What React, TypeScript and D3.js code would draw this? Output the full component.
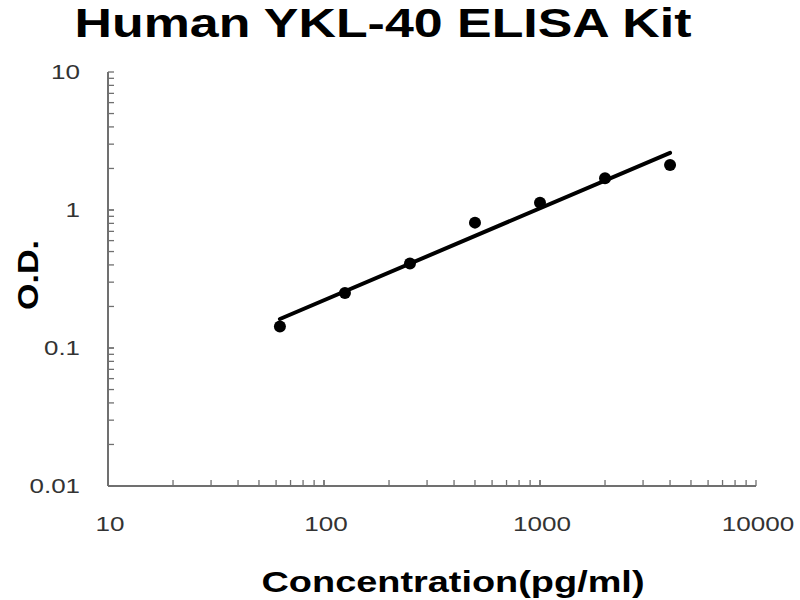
import React from 'react';
import * as d3 from 'd3';

// standard curve readings
const concentrations = [62.5, 125, 250, 500, 1000, 2000, 4000];
const odValues = [0.143, 0.25, 0.41, 0.81, 1.13, 1.7, 2.12];
const xTickLabels = ['10', '100', '1000', '10000'];
const yTickLabels = ['0.01', '0.1', '1', '10'];

const W = 800;
const H = 600;

const x = d3.scaleLog().domain([10, 10000]).range([108, 756]);
const y = d3.scaleLog().domain([0.01, 10]).range([486, 72]);

// least squares in log-log space (power trendline)
const lx = concentrations.map(Math.log10);
const ly = odValues.map(Math.log10);
const mx = d3.mean(lx)!;
const my = d3.mean(ly)!;
const slope = d3.sum(lx, (v, i) => (v - mx) * (ly[i] - my)) / d3.sum(lx, v => (v - mx) ** 2);
const fit = (c: number) => Math.pow(10, my + slope * (Math.log10(c) - mx));

const minorTicks = (lo: number, hi: number) => {
    const out: number[] = [];
    for (let p = lo; p < hi; p++) {
        for (let k = 1; k <= 10; k++) out.push(k * Math.pow(10, p));
    }
    return out;
};

const xTicks = minorTicks(1, 4);
const yTicks = minorTicks(-2, 1);

// labels in the reference are stretched sideways
const labelWidth = (s: string) => s.split('').reduce((w, ch) => w + (ch === '.' ? 7 : 14.5), 0);

const App: React.FC = () => {
    const line = d3.line<number>()
        .x(c => x(c))
        .y(c => y(fit(c)));
    const fitPts = [concentrations[0], concentrations[concentrations.length - 1]];
    const axisColor = '#707070';

    return (
        <svg width={W} height={H} style={{ display: 'block', position: 'absolute', left: 0, top: 0, background: '#fff' }}
            fontFamily="'Liberation Sans', Arial, sans-serif">
            <text x={383} y={37} textAnchor="middle" fontSize={40} fontWeight="bold" fill="#000"
                textLength={617} lengthAdjust="spacingAndGlyphs">Human YKL-40 ELISA Kit</text>

            {/* axes */}
            <line x1={x(10)} x2={x(10)} y1={y(10)} y2={y(0.01)} stroke={axisColor} strokeWidth={2} />
            <line x1={x(10)} x2={x(10000)} y1={y(0.01)} y2={y(0.01)} stroke={axisColor} strokeWidth={2} />
            {xTicks.map((t, i) => (
                <line key={'xt' + i} x1={x(t)} x2={x(t)} y1={y(0.01)} y2={y(0.01) - 6} stroke={axisColor} strokeWidth={1.3} />
            ))}
            {yTicks.map((t, i) => (
                <line key={'yt' + i} x1={x(10)} x2={x(10) + 6} y1={y(t)} y2={y(t)} stroke={axisColor} strokeWidth={1.3} />
            ))}

            {xTickLabels.map(s => (
                <text key={'xl' + s} x={x(+s) + 2} y={531} textAnchor="middle" fontSize={20} fill="#333"
                    textLength={labelWidth(s)} lengthAdjust="spacingAndGlyphs">{s}</text>
            ))}
            {yTickLabels.map(s => (
                <text key={'yl' + s} x={80 - labelWidth(s) / 2} y={y(+s) + 7} textAnchor="middle" fontSize={20} fill="#333"
                    textLength={labelWidth(s)} lengthAdjust="spacingAndGlyphs">{s}</text>
            ))}

            <text x={453} y={592} textAnchor="middle" fontSize={30} fontWeight="bold" fill="#000"
                textLength={383} lengthAdjust="spacingAndGlyphs">Concentration(pg/ml)</text>
            <text transform="translate(38,275) rotate(-90)" textAnchor="middle" fontSize={30} fontWeight="bold" fill="#000"
                textLength={70} lengthAdjust="spacingAndGlyphs">O.D.</text>

            <path d={line(fitPts) ?? ''} fill="none" stroke="#000" strokeWidth={4} strokeLinecap="round" />
            {concentrations.map((c, i) => (
                <circle key={'p' + i} cx={x(c)} cy={y(odValues[i])} r={6} fill="#000" />
            ))}
        </svg>
    );
};

export default App;
